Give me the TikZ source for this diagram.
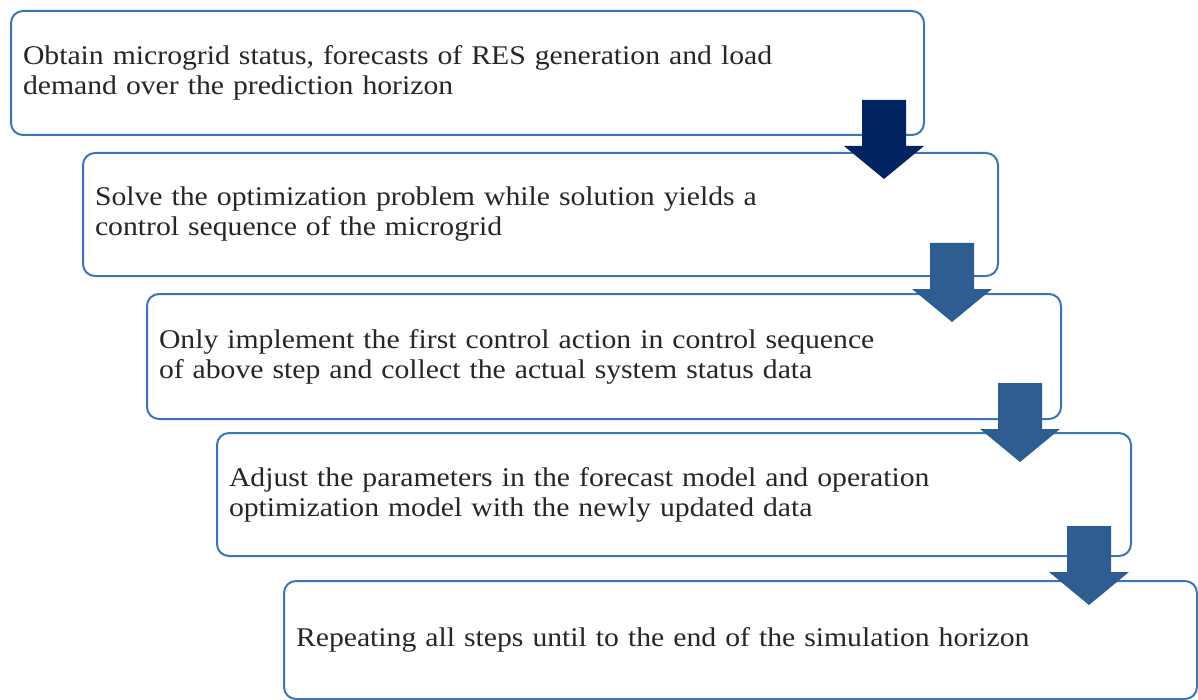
\documentclass[tikz,border=0pt]{standalone}
\usepackage{fontspec}
\setmainfont{Liberation Serif}[FakeStretch=1.1, WordSpace=0.75]
\definecolor{boxline}{RGB}{58,118,186}
\definecolor{arrowdark}{RGB}{0,36,98}
\definecolor{arrowblue}{RGB}{46,94,145}
\tikzset{
  stepbox/.style={draw=boxline, line width=1pt, rounded corners=6pt, fill=white,
    anchor=north west, inner xsep=6pt, inner ysep=0pt, align=left,
    font=\fontsize{13.5}{15}\selectfont, text=black!85},
  darr/.pic={\path[pic actions] (-22,0) -- (22,0) -- (22,46) -- (40,46) -- (0,79) -- (-40,46) -- (-22,46) -- cycle;}
}
\begin{document}
\begin{tikzpicture}[x=0.5pt,y=-0.5pt]
\useasboundingbox (0,0) rectangle (1198,700);
\node[stepbox, minimum width=456.5pt, minimum height=62pt, text width=444.5pt] (b1) at (10,10)
  {Obtain microgrid status, forecasts of RES generation and load\\demand over the prediction horizon};
\node[stepbox, minimum width=457.5pt, minimum height=61.5pt, text width=445.5pt] (b2) at (82,152)
  {Solve the optimization problem while solution yields a\\control sequence of the microgrid};
\node[stepbox, minimum width=457pt, minimum height=62.5pt, text width=445pt] (b3) at (146,293)
  {Only implement the first control action in control sequence\\of above step and collect the actual system status data};
\node[stepbox, minimum width=457pt, minimum height=61.5pt, text width=445pt] (b4) at (216,432)
  {Adjust the parameters in the forecast model and operation\\optimization model with the newly updated data};
\node[stepbox, minimum width=456.5pt, minimum height=59pt, text width=444.5pt] (b5) at (283,580)
  {Repeating all steps until to the end of the simulation horizon};
\pic[fill=arrowdark] (a1) at (884,100) {darr};
\pic[fill=arrowblue] (a2) at (952,243) {darr};
\pic[fill=arrowblue] (a3) at (1020,383) {darr};
\pic[fill=arrowblue] (a4) at (1089,526) {darr};
\end{tikzpicture}
\end{document}
